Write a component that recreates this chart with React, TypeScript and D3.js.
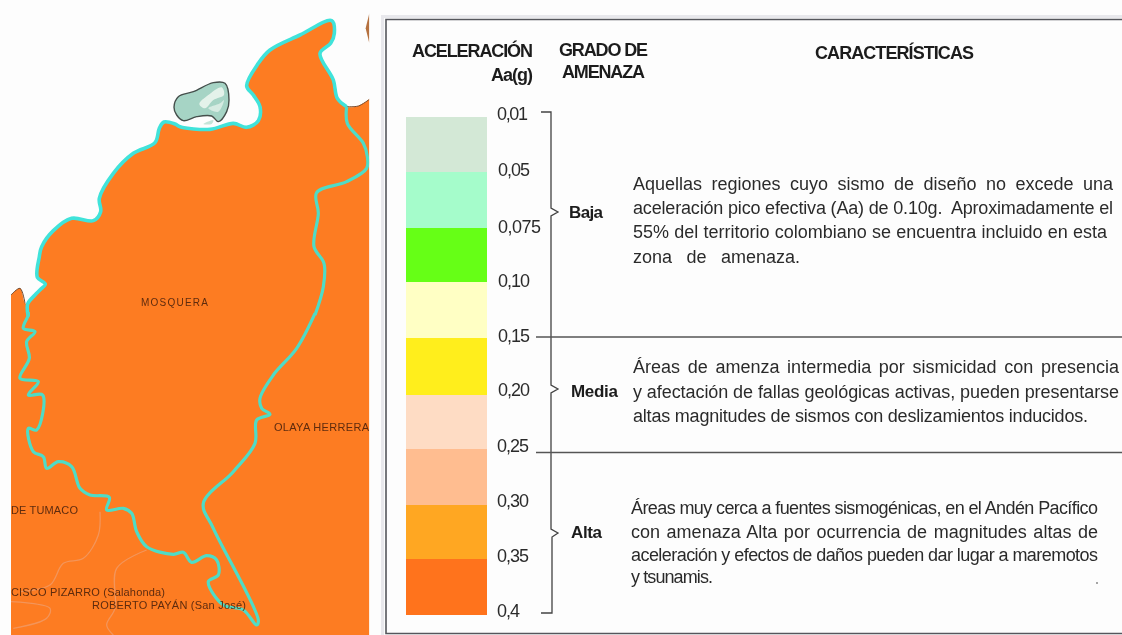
import React, { useEffect, useRef } from "react";
import * as d3 from "d3";

type P = [number, number];

// Map geometry (units: thirds of a pixel)
const coastPoints: P[] = [[85,950],[83,912],[105,885],[122,868],[136,852],[112,832],[118,770],[125,740],[160,692],[215,655],[280,662],[302,635],[298,595],[340,520],[400,460],[465,428],[478,385],[492,366],[525,372],[540,380],[630,388],[700,370],[740,382],[775,362],[780,320],[760,285],[740,258],[775,190],[810,150],[900,105],[995,62],[1003,100],[992,130],[960,160],[1000,240],[1012,295],[1040,320]];
const eastRiverNorth: P[] = [[1040,320],[1042,370],[1090,430],[1102,470],[1100,505],[1040,545],[950,578],[955,640],[942,740],[972,790],[970,860],[945,945]];
const eastRiverSouth: P[] = [[945,-5],[890,100],[820,180],[780,250],[785,280],[810,298],[770,315],[765,385],[700,470],[610,565],[640,640],[775,915],[770,930],[730,885],[670,870],[625,800],[655,780],[650,735],[620,722],[575,742],[550,712],[520,718],[440,695],[410,650],[395,595],[370,580],[320,585],[328,547],[270,540],[240,520],[215,455],[175,440],[140,460],[130,425],[100,410],[85,340],[110,345],[128,240],[85,240],[115,200],[60,190],[88,130],[80,80],[105,50],[70,40],[85,0],[85,-8]];
const westPocket: P[] = [[33,885],[60,865],[75,910],[85,950]];
const northEastEdge: P[] = [[1040,320],[1075,318],[1108,298]];
const mapCorners: P[] = [[1108,298],[1108,1905],[33,1905],[33,885]];
const islandOutline: P[] = [[522,322],[535,290],[580,275],[640,248],[675,250],[687,300],[680,335],[655,365],[635,348],[590,350],[550,362],[530,345]];
const islandLightA: P[] = [[598,312],[625,285],[665,262],[672,285],[640,300],[615,325]];
const islandLightB: P[] = [[625,325],[660,310],[672,300],[655,335]];
const islandSpot: P[] = [[610,372],[640,360],[635,372]];
const brownPatch: P[] = [[1108,40],[1097,85],[1108,130]];
const faintRoadA: P[] = [[300,590],[295,660],[250,730],[190,745],[150,810],[60,830]];
const faintRoadB: P[] = [[440,705],[350,760],[345,880],[320,930],[340,960]];
const faintRoadC: P[] = [[33,860],[150,880],[140,910],[40,940]];

const placeNames = ["MOSQUERA", "OLAYA HERRERA", "DE TUMACO", "CISCO PIZARRO (Salahonda)", "ROBERTO PAYÁN (San José)"];
const placeX = [141, 274, 11, 11, 92];
const placeY = [306, 431, 514, 596, 609];
const placeW = [67, 95, 67, 154, 154];

// Legend
const bandColors = ["#d3e8d6", "#a5fccb", "#66ff13", "#ffffc4", "#ffee1f", "#fedcc4", "#ffbd90", "#ffa721", "#ff731f"];
const bandEdges = [117, 172, 228, 282, 338, 395, 449, 505, 559, 615];
const tickLabels = ["0,01", "0,05", "0,075", "0,10", "0,15", "0,20", "0,25", "0,30", "0,35", "0,4"];
const tickBaselines = [120, 176, 233, 287, 342, 396, 452, 507, 562, 617];
const tickX = [497, 498, 498, 498, 498, 498, 497, 497, 497, 497];
const tickEnd = [528, 530, 541, 530, 530, 530, 529, 529, 529, 520];
const gradeNames = ["Baja", "Media", "Alta"];
const gradeX = [569, 571, 571];
const gradeBaseline = [218, 397, 538];
const gradeWidth = [34, 47, 31];
const bracketNotch = [212, 389, 533];
const dividers = [337, 452.5];

const bajaLines = ["Aquellas regiones cuyo sismo de diseño no excede una", "aceleración pico efectiva (Aa) de 0.10g.  Aproximadamente el", "55% del territorio colombiano se encuentra incluido en esta", "zona de amenaza."];
const bajaEnds = [1113, 1113, 1107, 800];
const bajaBase = [190, 214, 238, 263];
const mediaLines = ["Áreas de amenza intermedia por sismicidad con presencia", "y afectación de fallas geológicas activas, pueden presentarse", "altas magnitudes de sismos con deslizamientos inducidos."];
const mediaEnds = [1119, 1119, 1088];
const mediaBase = [373, 398, 422];
const altaLines = ["Áreas muy cerca a fuentes sismogénicas, en el Andén Pacífico", "con amenaza Alta por ocurrencia de magnitudes altas de", "aceleración y efectos de daños pueden dar lugar a maremotos", "y tsunamis."];
const altaEnds = [1098, 1098, 1098, 713];
const altaBase = [514, 538, 561, 583];

const headers = ["ACELERACIÓN", "Aa(g)", "GRADO DE", "AMENAZA", "CARACTERÍSTICAS"];
const headerX = [412, 491, 559, 562, 815];
const headerBase = [57, 81, 56, 78, 59];
const headerW = [121, 42, 89, 83, 159];

const W = 1122;
const H = 635;
const FONT = "'Liberation Sans', Arial, sans-serif";

const x = d3.scaleLinear().domain([0, 3]).range([0, 1]);
const yN = d3.scaleLinear().domain([0, 3]).range([0, 1]);
const yS = d3.scaleLinear().domain([0, 3]).range([315, 316]);

const north = (pts: P[]) => pts.map(([a, b]) => [x(a), yN(b)] as P);
const south = (pts: P[]) => pts.map(([a, b]) => [x(a), yS(b)] as P);
const smooth = d3.line().curve(d3.curveCatmullRom.alpha(0.5));
const closed = d3.line().curve(d3.curveCatmullRomClosed.alpha(0.5));
const straight = d3.line();

function Fitted({ text, x0, end, base, size, weight, fill, mode }: any) {
  return (
    <text className="fit" data-x0={x0} data-end={end} data-mode={mode || "letter"} x={x0} y={base} fontSize={size} fontWeight={weight} fill={fill} fontFamily={FONT} style={{ whiteSpace: "pre" }}>
      {text}
    </text>
  );
}

export default function App() {
  const ref = useRef<SVGSVGElement>(null);
  useEffect(() => {
    const root = d3.select(ref.current);
    root.selectAll<SVGTextElement, unknown>("text.fit").each(function () {
      const el = this;
      const target = +el.getAttribute("data-end")! - +el.getAttribute("data-x0")!;
      const len = el.getComputedTextLength();
      const t = el.textContent || "";
      const gaps = (t.match(/ /g) || []).length;
      const delta = target - len;
      if (el.getAttribute("data-mode") === "word" && delta > 0 && gaps > 0) {
        el.setAttribute("word-spacing", String(delta / gaps));
      } else {
        el.setAttribute("letter-spacing", String(delta / Math.max(1, t.length - 1)));
      }
    });
  }, []);

  const outlineD = smooth([...north(westPocket).slice(0, 3), ...north(coastPoints.slice(1)), ...north(northEastEdge).slice(1)])!;
  const fillD = outlineD + straight(north(mapCorners).slice(1))!.replace(/^M/, "L") + "Z";
  const bandY = d3.scaleOrdinal<string, number>().domain(bandColors).range(bandEdges);

  return (
    <svg ref={ref} width={W} height={H} style={{ position: "fixed", left: 0, top: 0, background: "#fdfdfd" }}>
      <defs>
        <filter id="soft" filterUnits="userSpaceOnUse" x="0" y="0" width={W} height={H}>
          <feGaussianBlur stdDeviation="0.6" />
        </filter>
        <clipPath id="mapClip">
          <rect x={x(33)} y={0} width={x(1108 - 33)} height={H} />
        </clipPath>
      </defs>
      <g filter="url(#soft)">
        <g clipPath="url(#mapClip)">
          <path d={fillD} fill="#fd7b21" />
          <path d={straight(north(brownPatch))!} fill="#b5713f" />
          {[faintRoadA, faintRoadB, faintRoadC].map((r, i) => (
            <path key={i} d={smooth(south(r))!} fill="none" stroke="#f3955a" strokeWidth={1.3} />
          ))}
          <path d={smooth(north(westPocket).slice(0, 3))!} fill="none" stroke="#6e4a32" strokeWidth={1} />
          <path d={smooth(north(northEastEdge))!} fill="none" stroke="#7a4a2a" strokeWidth={1} />
          <path d={closed(north(islandOutline))!} fill="#a6d4c5" stroke="#444f4c" strokeWidth={1.4} />
          <path d={closed(north(islandLightA))!} fill="#e4f2ea" />
          <path d={closed(north(islandLightB))!} fill="#d6ebe2" />
          <path d={closed(north(islandSpot))!} fill="#c4e4d8" />
          <path d={smooth(north(coastPoints))!} fill="none" stroke="#3fe3da" strokeWidth={3.6} strokeLinejoin="round" />
          <path d={smooth(north(eastRiverNorth))!} fill="none" stroke="#4fdcc6" strokeWidth={3.2} strokeLinejoin="round" />
          <path d={smooth(south(eastRiverSouth))!} fill="none" stroke="#4fdcc6" strokeWidth={3.2} strokeLinejoin="round" />
          {placeNames.map((n, i) => (
            <Fitted key={n} text={n} x0={placeX[i]} end={placeX[i] + placeW[i]} base={placeY[i]} size={i === 0 ? 10 : 11} fill="#5e2c0f" />
          ))}
        </g>

        {/* panel frame */}
        <path d={`M${W},16.5H382.5V${H}`} fill="none" stroke="#e8e8ec" strokeWidth={3} />
        <path d={`M${W},19.5H386V633.5H${W}`} fill="none" stroke="#55575c" strokeWidth={1.6} />

        {/* colour column */}
        {bandColors.map((c, i) => (
          <rect key={c} x={406} y={bandY(c)} width={81} height={bandEdges[i + 1] - bandEdges[i]} fill={c} />
        ))}
        {tickLabels.map((t, i) => (
          <Fitted key={t} text={t} x0={tickX[i]} end={tickEnd[i]} base={tickBaselines[i]} size={18} fill="#2c2c2c" />
        ))}

        {/* bracket */}
        <path
          d={`M541,112H551V${bracketNotch[0] - 4}L558,${bracketNotch[0]}L551,${bracketNotch[0] + 4}V${bracketNotch[1] - 4}L558,${bracketNotch[1]}L551,${bracketNotch[1] + 4}V${bracketNotch[2] - 4}L558,${bracketNotch[2]}L552,${bracketNotch[2] + 4}V613H541`}
          fill="none" stroke="#444" strokeWidth={1.3}
        />
        {dividers.map((d) => (
          <line key={d} x1={536} x2={W} y1={d} y2={d} stroke="#555" strokeWidth={1.6} />
        ))}
        {gradeNames.map((g, i) => (
          <Fitted key={g} text={g} x0={gradeX[i]} end={gradeX[i] + gradeWidth[i]} base={gradeBaseline[i]} size={17} weight="bold" fill="#1c1c1c" />
        ))}
        {headers.map((h, i) => (
          <Fitted key={h} text={h} x0={headerX[i]} end={headerX[i] + headerW[i]} base={headerBase[i]} size={18} weight="bold" fill="#1c1c1c" />
        ))}
        {bajaLines.map((l, i) => (
          <Fitted key={l} text={l} mode="word" x0={633} end={bajaEnds[i]} base={bajaBase[i]} size={18} fill="#2c2c2c" />
        ))}
        {mediaLines.map((l, i) => (
          <Fitted key={l} text={l} mode="word" x0={633} end={mediaEnds[i]} base={mediaBase[i]} size={18} fill="#2c2c2c" />
        ))}
        {altaLines.map((l, i) => (
          <Fitted key={l} text={l} mode="word" x0={631} end={altaEnds[i]} base={altaBase[i]} size={18} fill="#2c2c2c" />
        ))}
        <circle cx={1097} cy={583} r={1} fill="#888" />
      </g>
    </svg>
  );
}
